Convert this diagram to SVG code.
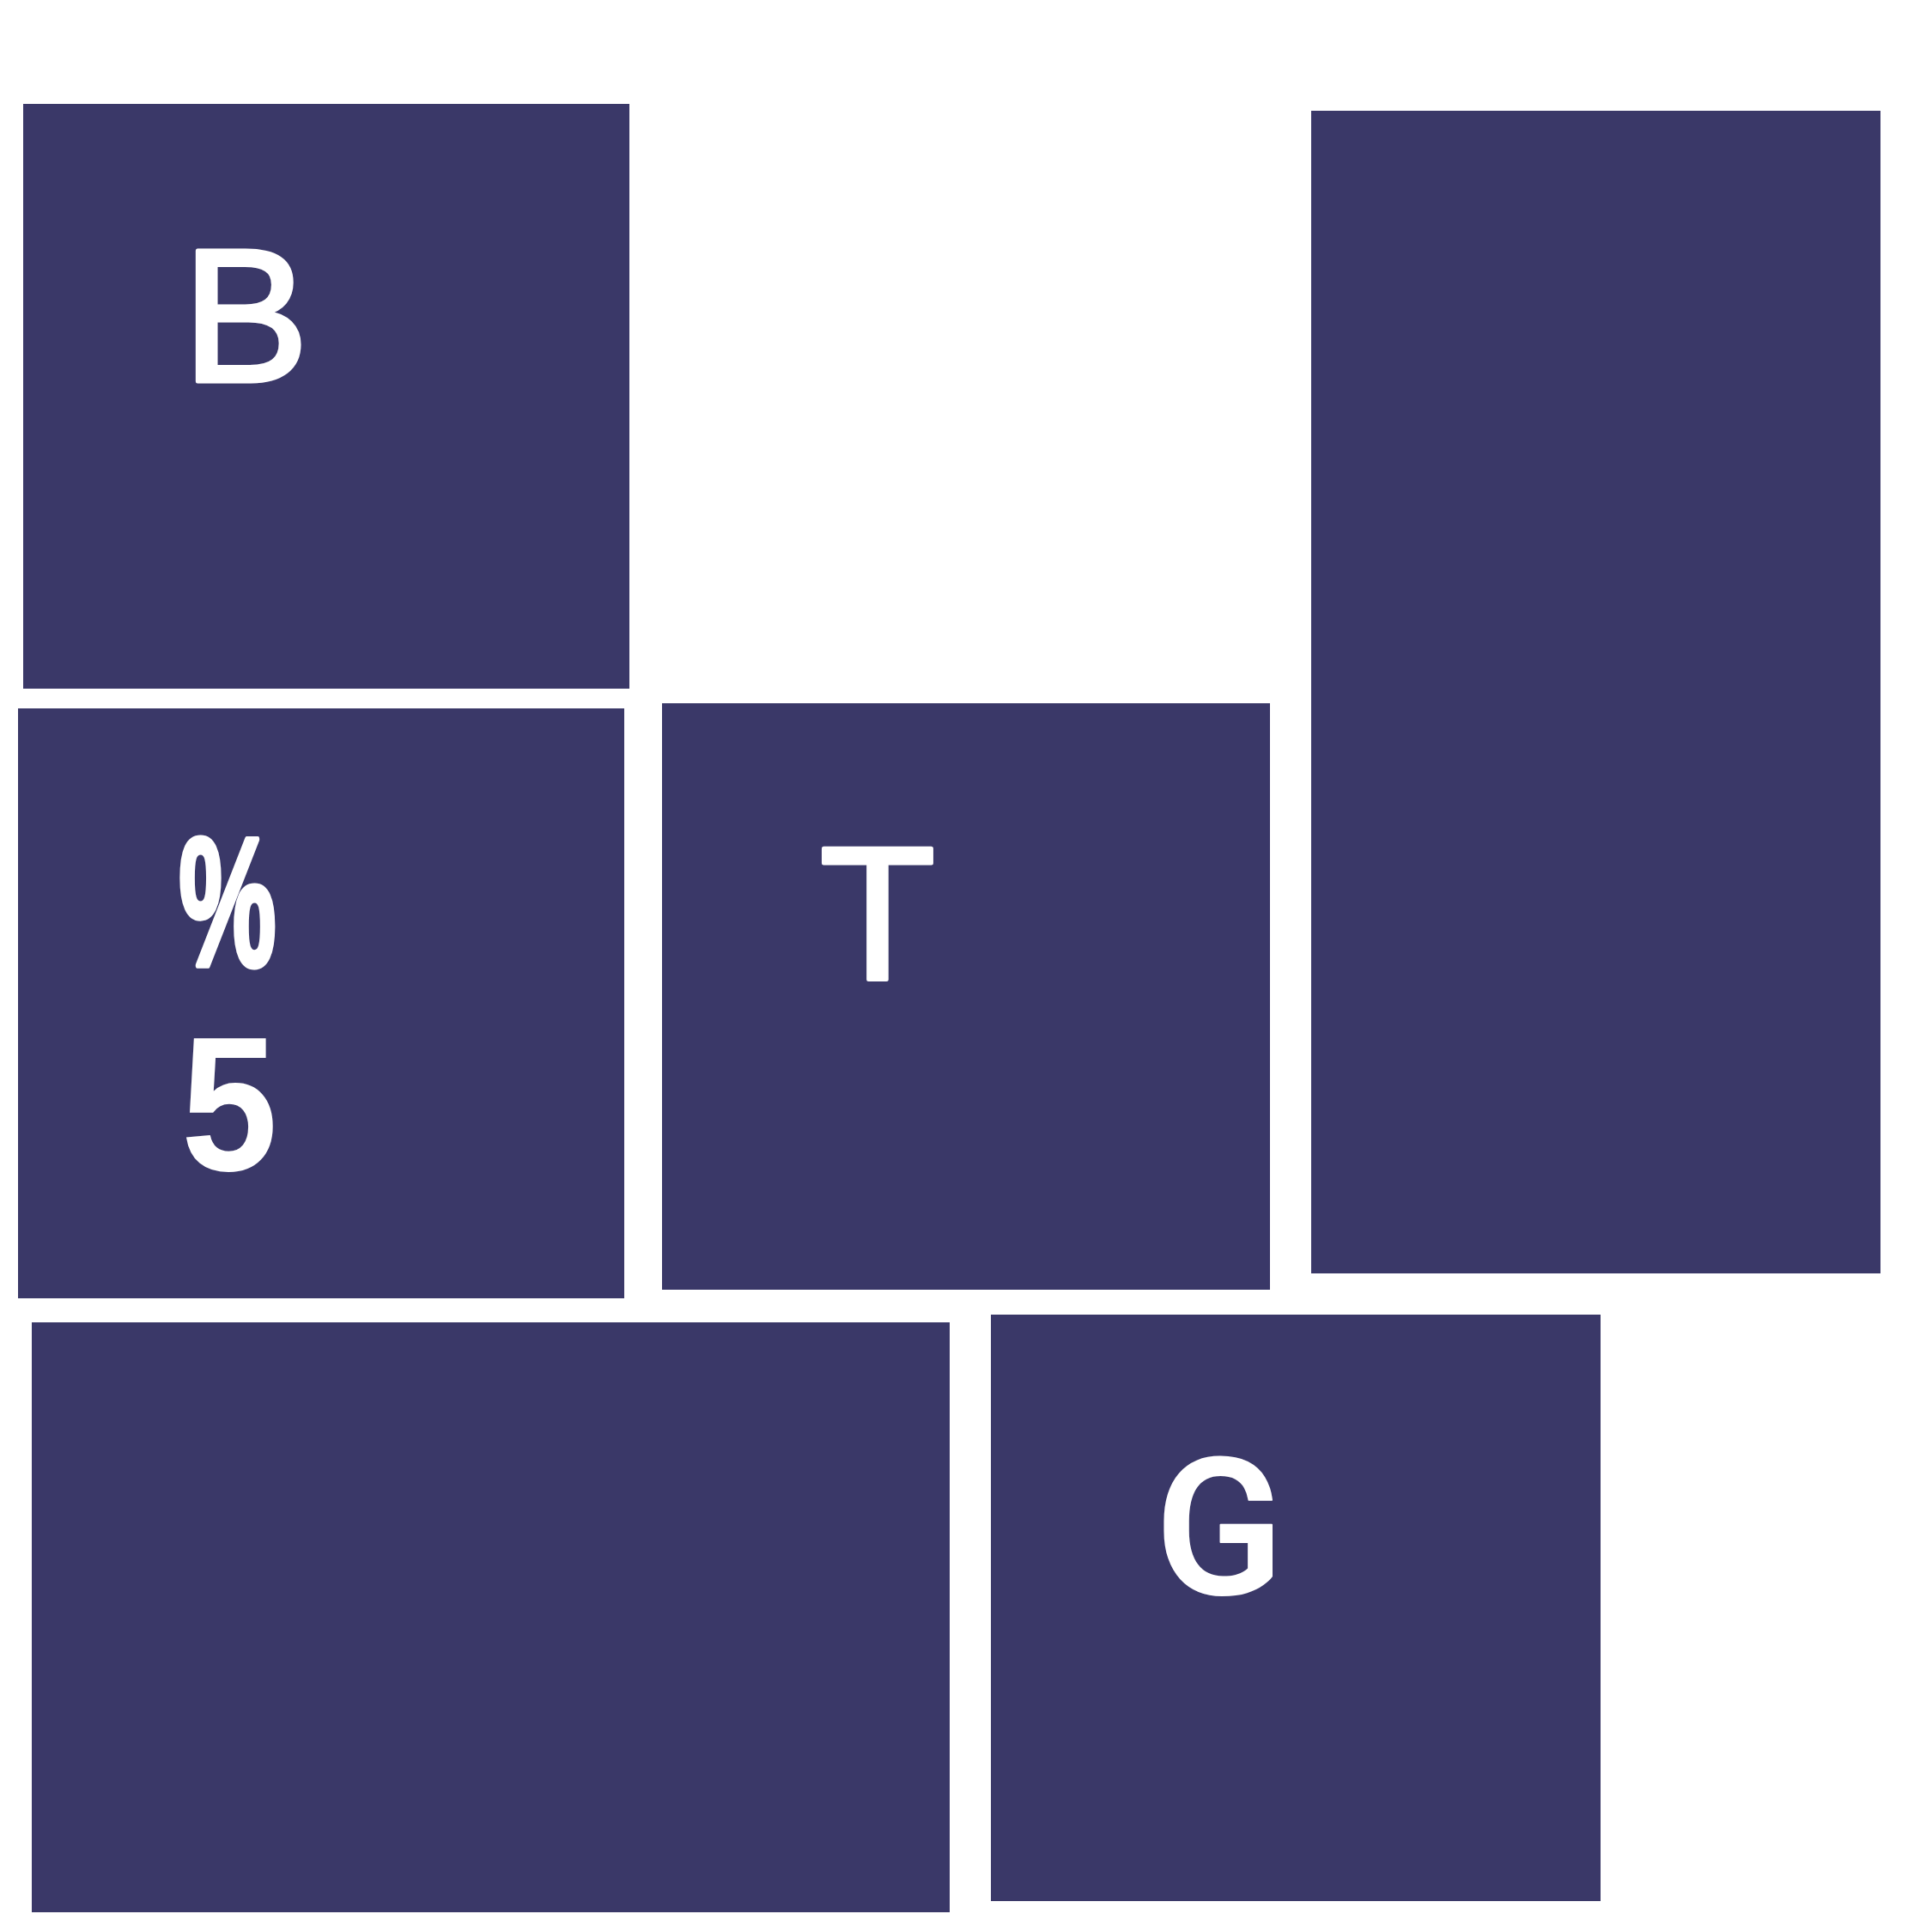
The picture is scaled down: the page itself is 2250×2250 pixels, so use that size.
<svg xmlns="http://www.w3.org/2000/svg" width="2250" height="2250" viewBox="0 0 2250 2250">
<style>
.box{fill:#3a3868}
.lbl{fill:#ffffff;font-family:"Liberation Sans",Arial,sans-serif;font-size:221px;text-anchor:middle;stroke:#ffffff;stroke-width:5;stroke-linejoin:round}
.bold{font-weight:bold}
.rb{font-family:Roboto,"Liberation Sans",sans-serif;font-size:220px;font-weight:500;stroke:#ffffff;stroke-width:2}
</style>
<rect width="2250" height="2250" fill="#ffffff"/>
<g id="connectors"></g>
<g id="node-b">
<rect class="box" x="27" y="121" width="706" height="681"/>
<text class="lbl" x="286" y="444">B</text>
</g>
<g id="node-right">
<rect class="box" x="1527" y="129" width="663" height="1354"/>
</g>
<g id="node-pct">
<rect class="box" x="21" y="825" width="706" height="687"/>
<text class="lbl bold" transform="translate(265,1124) scale(0.58,0.97)" x="0" y="0" style="stroke-width:7;font-size:220px">%</text>
<text class="lbl bold" transform="translate(267,1363) scale(0.92,1.01)" x="0" y="0" style="stroke:none;font-size:220px">5</text>
</g>
<g id="node-t">
<rect class="box" x="771" y="819" width="708" height="683"/>
<text class="lbl" x="1022" y="1140">T</text>
</g>
<g id="node-bottom-left">
<rect class="box" x="37" y="1540" width="1069" height="687"/>
</g>
<g id="node-g">
<rect class="box" x="1154" y="1531" width="710" height="683"/>
<text class="lbl rb" x="1420" y="1856">G</text>
</g>
</svg>
